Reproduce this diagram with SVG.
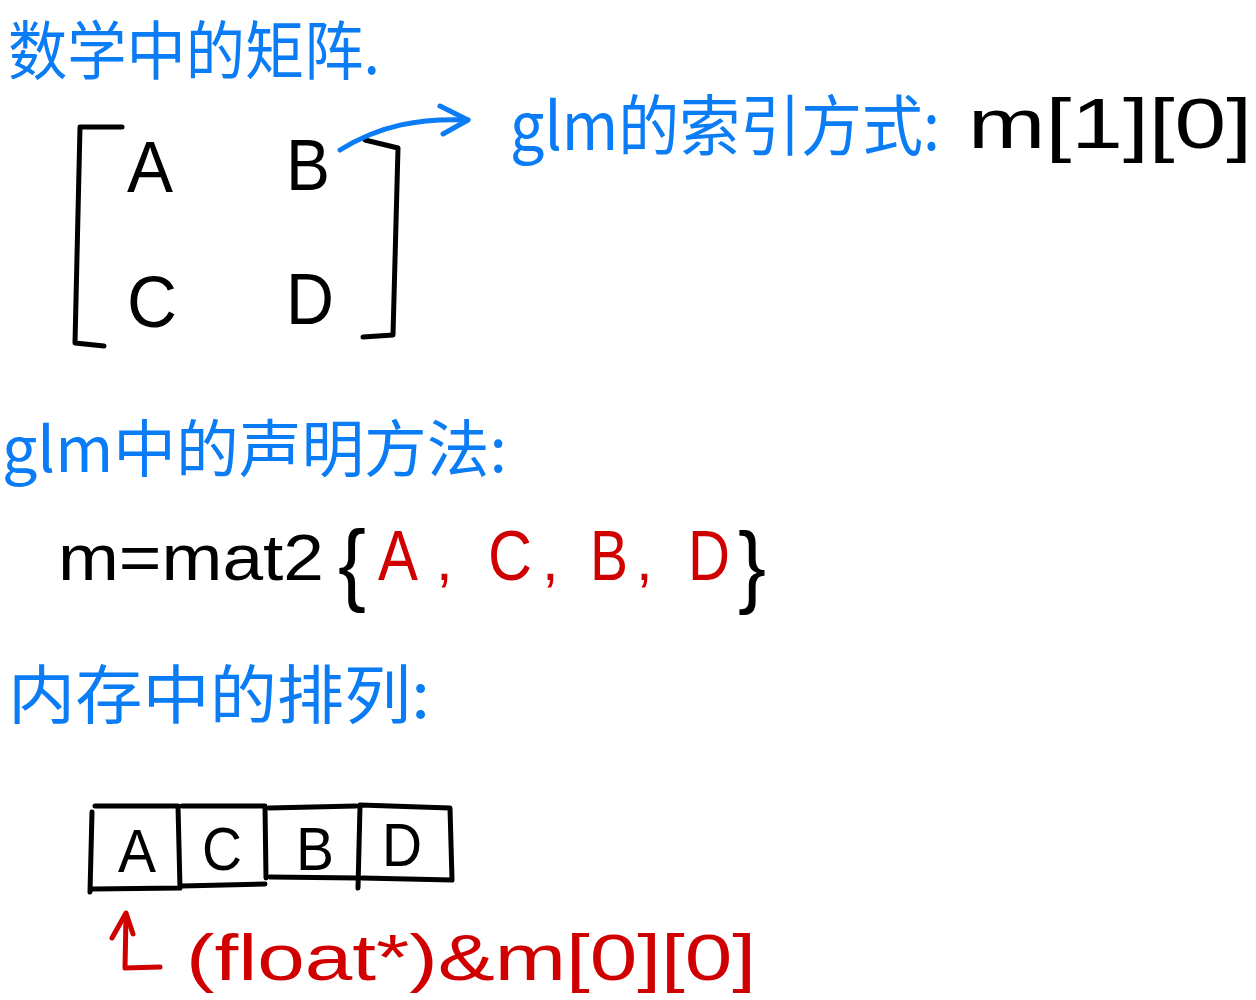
<svg xmlns="http://www.w3.org/2000/svg" width="1256" height="1000" viewBox="0 0 1256 1000">
<defs>
<style>
.cn{font-family:"Noto Sans CJK SC","Liberation Sans",sans-serif;fill:#0a7cf5}
.lt{font-family:"Liberation Sans","Noto Sans",sans-serif}
.k{fill:#000}
.r{fill:#d00000}
.ln{fill:none;stroke:#000;stroke-width:5;stroke-linecap:round;stroke-linejoin:round}
.bl{fill:none;stroke:#0a7cf5;stroke-width:5;stroke-linecap:round;stroke-linejoin:round}
.rl{fill:none;stroke:#d00000;stroke-width:5;stroke-linecap:round;stroke-linejoin:round}
</style>
</defs>
<rect width="1256" height="1000" fill="#fff"/>

<g id="title-math">
<text class="cn" x="8" y="74" font-size="64" textLength="372" lengthAdjust="spacingAndGlyphs">数学中的矩阵.</text>
</g>

<g id="matrix">
<path class="ln" d="M122,127 L80,127 L75,343 L104,346"/>
<path class="ln" d="M365,140 L398,148 L393,335 L363,337"/>
<text class="lt k" x="127" y="192" font-size="72" textLength="46" lengthAdjust="spacingAndGlyphs">A</text>
<text class="lt k" x="286" y="190" font-size="72" textLength="44" lengthAdjust="spacingAndGlyphs">B</text>
<text class="lt k" x="127" y="327" font-size="72" textLength="50" lengthAdjust="spacingAndGlyphs">C</text>
<text class="lt k" x="286" y="324" font-size="72" textLength="48" lengthAdjust="spacingAndGlyphs">D</text>
</g>

<g id="glm-index">
<text class="cn" x="510" y="150" font-size="66" textLength="430" lengthAdjust="spacingAndGlyphs">glm的索引方式:</text>
<text class="lt k" x="968" y="148" font-size="70" textLength="284" lengthAdjust="spacingAndGlyphs">m[1][0]</text>
</g>

<g id="glm-decl">
<text class="cn" x="2" y="472" font-size="62" textLength="505" lengthAdjust="spacingAndGlyphs">glm中的声明方法:</text>
</g>

<g id="decl-code">
<text class="lt k" x="58" y="580" font-size="64" textLength="266" lengthAdjust="spacingAndGlyphs">m=mat2</text>
<text class="lt k" x="338" y="594" font-size="90" textLength="28" lengthAdjust="spacingAndGlyphs">{</text>
<text class="lt r" x="378" y="580" font-size="70" textLength="40" lengthAdjust="spacingAndGlyphs">A</text>
<text class="lt r" x="436" y="580" font-size="60">,</text>
<text class="lt r" x="488" y="580" font-size="70" textLength="44" lengthAdjust="spacingAndGlyphs">C</text>
<text class="lt r" x="542" y="580" font-size="60">,</text>
<text class="lt r" x="590" y="580" font-size="70" textLength="38" lengthAdjust="spacingAndGlyphs">B</text>
<text class="lt r" x="636" y="580" font-size="60">,</text>
<text class="lt r" x="688" y="580" font-size="70" textLength="42" lengthAdjust="spacingAndGlyphs">D</text>
<text class="lt k" x="738" y="596" font-size="90" textLength="28" lengthAdjust="spacingAndGlyphs">}</text>
</g>

<g id="title-memory">
<text class="cn" x="8" y="718" font-size="64" textLength="422" lengthAdjust="spacingAndGlyphs">内存中的排列:</text>
</g>

<g id="cell-A">
<path class="ln" d="M92,812 L90,892 M95,806 L178,806 L180,888 L93,889"/>
<text class="lt k" x="118" y="872" font-size="62" textLength="38" lengthAdjust="spacingAndGlyphs">A</text>
</g>
<g id="cell-C">
<path class="ln" d="M182,806 L265,806 L266,878 M182,886 L265,884"/>
<text class="lt k" x="202" y="870" font-size="62" textLength="40" lengthAdjust="spacingAndGlyphs">C</text>
</g>
<g id="cell-B">
<path class="ln" d="M269,808 L356,806 M270,877 L358,878"/>
<text class="lt k" x="296" y="870" font-size="62" textLength="38" lengthAdjust="spacingAndGlyphs">B</text>
</g>
<g id="cell-D">
<path class="ln" d="M360,806 L358,888 M360,805 L450,808 L452,880 L362,878"/>
<text class="lt k" x="382" y="866" font-size="62" textLength="40" lengthAdjust="spacingAndGlyphs">D</text>
</g>

<g id="pointer-label">
<text class="lt r" x="186" y="980" font-size="64" textLength="570" lengthAdjust="spacingAndGlyphs">(float*)&amp;m[0][0]</text>
</g>

<g id="connectors">
<path class="bl" d="M340,150 C380,125 420,118 468,120"/>
<path class="bl" d="M440,106 L468,120 L443,134"/>
<path class="rl" d="M126,915 L125,968 L160,967"/>
<path class="rl" d="M112,938 L126,913 L133,934"/>
</g>
</svg>
